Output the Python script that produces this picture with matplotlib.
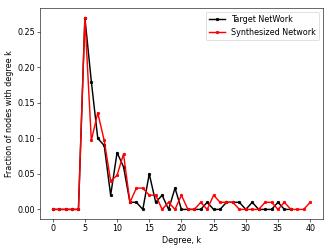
import matplotlib
matplotlib.use("Agg")
import matplotlib.pyplot as plt

degrees_target = list(range(0, 38))
target = [0, 0, 0, 0, 0, 0.27, 0.18, 0.10, 0.09, 0.02, 0.08, 0.06, 0.01, 0.01, 0.0,
          0.05, 0.01, 0.02, 0.0, 0.03, 0.0, 0.0, 0.0, 0.0, 0.01, 0.0, 0.0, 0.01,
          0.01, 0.01, 0.0, 0.01, 0.0, 0.0, 0.0, 0.01, 0.0, 0.0]

degrees_synth = list(range(0, 41))
synth = [0, 0, 0, 0, 0, 0.27, 0.097, 0.136, 0.097, 0.04, 0.048, 0.078, 0.01, 0.03,
         0.03, 0.02, 0.02, 0.0, 0.01, 0.0, 0.02, 0.0, 0.0, 0.01, 0.0, 0.02, 0.01,
         0.01, 0.01, 0.0, 0.0, 0.0, 0.0, 0.01, 0.01, 0.0, 0.01, 0.0, 0.0, 0.0, 0.01]

plt.rcParams["font.size"] = 11
fig, ax = plt.subplots(figsize=(332/52, 250/52), dpi=52)
fig.subplots_adjust(left=0.12, right=0.973, top=0.968, bottom=0.124)
ax.plot(degrees_target, target, color="black", marker=".", ms=7, lw=2, label="Target NetWork")
ax.plot(degrees_synth, synth, color="red", marker=".", ms=7, lw=2, label="Synthesized Network")
ax.set_xlabel("Degree, k")
ax.set_ylabel("Fraction of nodes with degree k")
ax.set_xticks(range(0, 41, 5))
ax.set_yticks([0.0, 0.05, 0.10, 0.15, 0.20, 0.25])
ax.legend(loc="upper right")
fig.savefig("out.png", dpi=52)
